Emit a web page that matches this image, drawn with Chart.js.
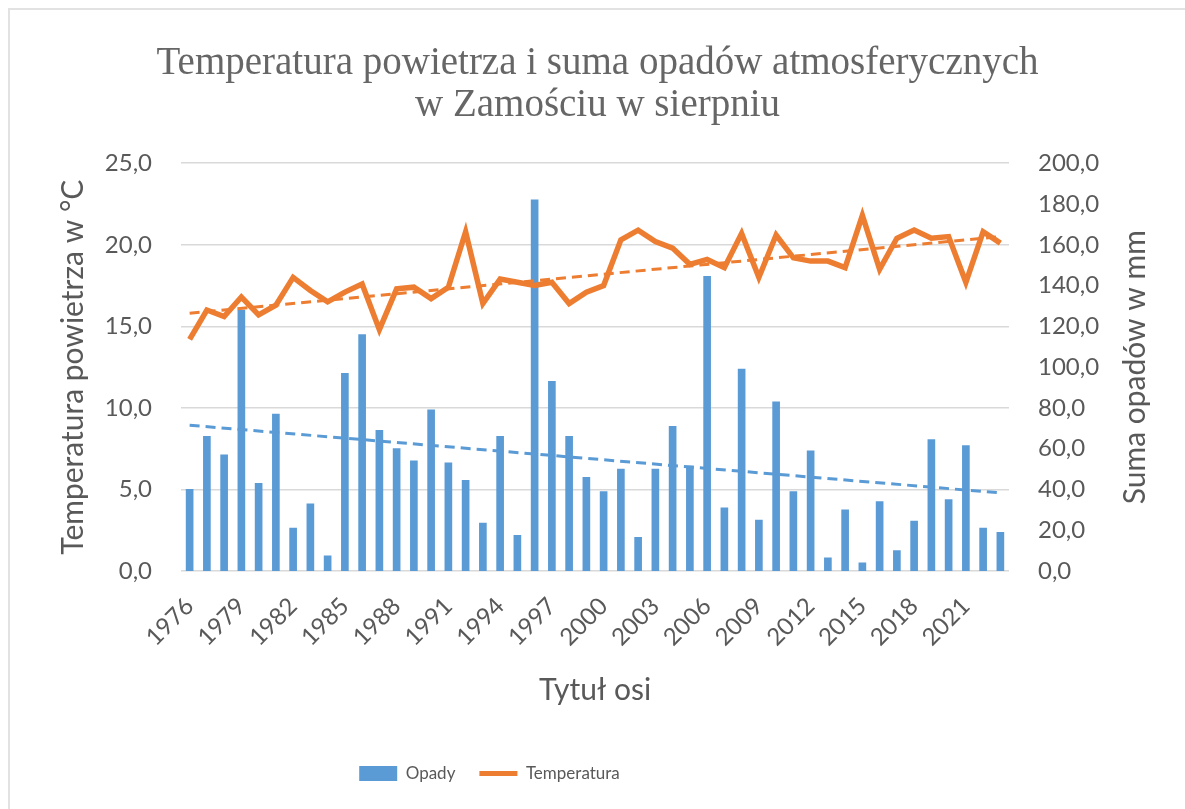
<!DOCTYPE html>
<html>
<head>
<meta charset="utf-8">
<script src="https://cdn.jsdelivr.net/npm/chart.js@4.4.0/dist/chart.umd.min.js"></script>
<style>
  html, body { margin: 0; padding: 0; background: #fff; }
  #frame { position: absolute; left: 8px; top: 8px; width: 1177px; height: 801px; border-top: 2px solid #e2e2e2; border-left: 2px solid #e2e2e2; }
  #myChart { position: absolute; left: 0; top: 0; }
</style>
</head>
<body>
<div id="frame"><canvas id="myChart" width="1175" height="799"></canvas></div>
<script>
var years = ['1976', '1977', '1978', '1979', '1980', '1981', '1982', '1983', '1984', '1985',
             '1986', '1987', '1988', '1989', '1990', '1991', '1992', '1993', '1994', '1995',
             '1996', '1997', '1998', '1999', '2000', '2001', '2002', '2003', '2004', '2005',
             '2006', '2007', '2008', '2009', '2010', '2011', '2012', '2013', '2014', '2015',
             '2016', '2017', '2018', '2019', '2020', '2021', '2022', '2023'];
// suma opadów w mm
var opady = [40, 66, 57, 128, 43, 77, 21, 33, 7.5, 97,
             116, 69, 60, 54, 79, 53, 44.5, 23.5, 66, 17.5,
             182, 93, 66, 46, 39, 50, 16.5, 50, 71, 51.5,
             144.5, 31, 99, 25, 83, 39, 59, 6.5, 30, 4,
             34, 10, 24.5, 64.5, 35, 61.5, 21, 19];
// temperatura powietrza w st. C
var temperatura = [14.2, 16.0, 15.6, 16.8, 15.7, 16.3, 18.0, 17.2, 16.5, 17.1,
                   17.6, 14.8, 17.3, 17.4, 16.7, 17.4, 20.8, 16.4, 17.9, 17.7,
                   17.5, 17.7, 16.4, 17.1, 17.5, 20.3, 20.9, 20.2, 19.8, 18.8,
                   19.1, 18.6, 20.7, 18.0, 20.6, 19.2, 19.0, 19.0, 18.6, 21.8,
                   18.5, 20.4, 20.9, 20.4, 20.5, 17.7, 20.8, 20.1];
// linie trendu: wartość na początku i na końcu okresu
var trendOpady = [71.5, 38.3];
var trendTemp = [15.8, 20.5];
// etykiety osi
var shownYears = ['1976', '1979', '1982', '1985', '1988', '1991', '1994', '1997',
                  '2000', '2003', '2006', '2009', '2012', '2015', '2018', '2021'];
var tempTicks = [0, 5, 10, 15, 20, 25];
var opadyTicks = [0, 20, 40, 60, 80, 100, 120, 140, 160, 180, 200];

var GRAY = '#595959';
var SANS = 'Lato, "Open Sans", sans-serif';

function fmt(v) {
    return Number(v).toFixed(1).replace('.', ',');
}

// tytuł prawej osi, czytany od dołu do góry jak w Excelu
var rightTitle = {
    id: 'rightTitle',
    afterDraw: function(chart) {
        var a = chart.chartArea, c = chart.ctx;
        c.save();
        c.translate(1125, (a.top + a.bottom) / 2);
        c.rotate(-Math.PI / 2);
        c.font = '30px ' + SANS;
        c.fillStyle = GRAY;
        c.textAlign = 'center';
        c.textBaseline = 'middle';
        c.fillText('Suma opadów w mm', 0, 0);
        c.restore();
    }
};

// legenda jest przesunięta w lewo względem środka
var shiftLegend = {
    id: 'shiftLegend',
    afterLayout: function(chart) {
        chart.legend.left -= 108;
        chart.legend.right -= 108;
    }
};

var ctx = document.getElementById('myChart').getContext('2d');
var chart = new Chart(ctx, {
    type: 'bar',
    data: {
        labels: years,
        datasets: [{
            type: 'bar',
            label: 'Opady',
            data: opady,
            yAxisID: 'y1',
            backgroundColor: '#5B9BD5',
            barThickness: 7,
            order: 3
        }, {
            type: 'line',
            label: 'Temperatura',
            data: temperatura,
            yAxisID: 'y',
            borderColor: '#ED7D31',
            backgroundColor: '#ED7D31',
            borderWidth: 5.5,
            pointRadius: 0,
            order: 2
        }, {
            type: 'line',
            label: 'Liniowy (Opady)',
            data: [{x: years[0], y: trendOpady[0]}, {x: years[years.length - 1], y: trendOpady[1]}],
            yAxisID: 'y1',
            borderColor: '#5B9BD5',
            borderWidth: 3,
            borderDash: [10, 6],
            pointRadius: 0,
            order: 1
        }, {
            type: 'line',
            label: 'Liniowy (Temperatura)',
            data: [{x: years[0], y: trendTemp[0]}, {x: years[years.length - 1], y: trendTemp[1]}],
            yAxisID: 'y',
            borderColor: '#ED7D31',
            borderWidth: 3,
            borderDash: [10, 6],
            pointRadius: 0,
            order: 0
        }]
    },
    options: {
        responsive: false,
        animation: false,
        layout: { padding: { left: 0, right: 0, top: 0, bottom: 17 } },
        plugins: {
            title: {
                display: true,
                text: ['Temperatura powietrza i suma opadów atmosferycznych', 'w Zamościu w sierpniu'],
                color: '#666666',
                font: { family: '"Liberation Serif", "Times New Roman", serif', size: 39, weight: 'normal', lineHeight: 1.08 },
                padding: { top: 33, bottom: 36 }
            },
            legend: {
                position: 'bottom',
                labels: {
                    usePointStyle: true,
                    pointStyleWidth: 38,
                    boxHeight: 15,
                    padding: 24,
                    color: GRAY,
                    font: { family: SANS, size: 17 },
                    generateLabels: function(chart) {
                        var items = Chart.defaults.plugins.legend.labels.generateLabels(chart);
                        items = items.filter(function(it) { return it.datasetIndex < 2; });
                        items.sort(function(a, b) { return a.datasetIndex - b.datasetIndex; });
                        items.forEach(function(it) {
                            it.pointStyle = it.datasetIndex === 0 ? 'rect' : 'line';
                            if (it.datasetIndex === 1) it.lineWidth = 5;
                        });
                        return items;
                    }
                }
            },
            tooltip: { enabled: false }
        },
        scales: {
            x: {
                grid: { display: false },
                border: { display: false },
                ticks: {
                    autoSkip: false,
                    minRotation: 45,
                    maxRotation: 45,
                    padding: 13,
                    color: GRAY,
                    font: { family: SANS, size: 24 },
                    callback: function(v) {
                        var l = this.getLabelForValue(v);
                        return shownYears.indexOf(l) >= 0 ? l : '';
                    }
                },
                title: {
                    display: true,
                    text: 'Tytuł osi',
                    color: GRAY,
                    font: { family: SANS, size: 30 },
                    padding: { top: 4, bottom: 33 }
                },
                afterFit: function(s) { s.height = 170; }
            },
            y: {
                position: 'left',
                min: tempTicks[0],
                max: tempTicks[tempTicks.length - 1],
                afterBuildTicks: function(s) {
                    s.ticks = tempTicks.map(function(v) { return {value: v}; });
                },
                grid: { color: '#d9d9d9', lineWidth: 1.5, drawTicks: false },
                border: { display: false },
                ticks: { padding: 29, color: GRAY, font: { family: SANS, size: 24 }, callback: fmt },
                title: {
                    display: true,
                    text: 'Temperatura powietrza w °C',
                    color: GRAY,
                    font: { family: SANS, size: 30 },
                    padding: { top: 45, bottom: 0 }
                },
                afterFit: function(s) { s.width = 171; }
            },
            y1: {
                position: 'right',
                min: opadyTicks[0],
                max: opadyTicks[opadyTicks.length - 1],
                afterBuildTicks: function(s) {
                    s.ticks = opadyTicks.map(function(v) { return {value: v}; });
                },
                grid: { display: false, drawTicks: false },
                border: { display: false },
                ticks: { padding: 29, color: GRAY, font: { family: SANS, size: 24 }, callback: fmt },
                afterFit: function(s) { s.width = 176; }
            }
        }
    },
    plugins: [rightTitle, shiftLegend]
});
</script>
</body>
</html>
